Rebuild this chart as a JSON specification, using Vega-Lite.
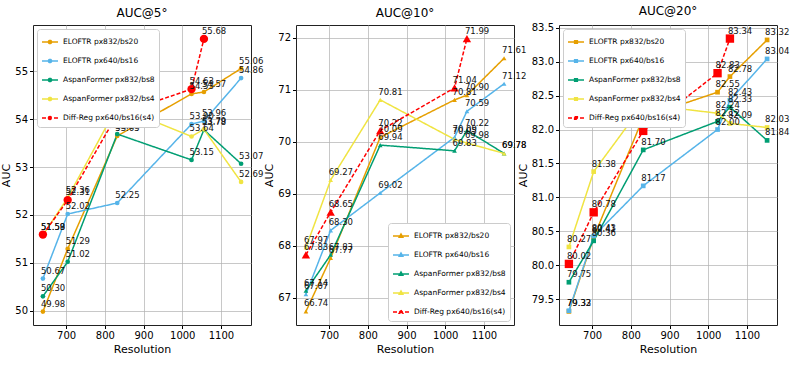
{
  "$schema": "https://vega.github.io/schema/vega-lite/v6.json",
  "padding": {"left": 0, "top": 4, "right": 0, "bottom": 0},
  "background": "white",
  "bounds": "flush",
  "spacing": 45,
  "config": {
    "font": "DejaVu Sans",
    "view": {"stroke": "#222", "strokeWidth": 1},
    "axis": {"grid": true, "gridColor": "#b0b0b0", "gridOpacity": 0.7, "gridWidth": 1, "labelFontSize": 10, "titleFontSize": 11, "titleFontWeight": "normal", "labelColor": "#000", "titleColor": "#000", "tickColor": "#000", "domain": false, "tickSize": 3.5, "labelPadding": 2, "titlePadding": 3},
    "title": {"fontSize": 12, "fontWeight": "normal", "offset": 5},
    "legend": {"fillColor": "white", "strokeColor": "#cccccc", "padding": 4, "cornerRadius": 3, "labelFontSize": 7.5, "rowPadding": 5, "symbolStrokeWidth": 1.5, "offset": 4, "symbolSize": 256, "labelColor": "#000", "labelOffset": 4}
  },
  "datasets": {
    "d": [
      {"panel": "5", "series": "ELOFTR px832/bs20", "res": 640, "auc": 49.98},
      {"panel": "5", "series": "ELOFTR px832/bs20", "res": 704, "auc": 51.29},
      {"panel": "5", "series": "ELOFTR px832/bs20", "res": 832, "auc": 53.65},
      {"panel": "5", "series": "ELOFTR px832/bs20", "res": 1024, "auc": 54.53},
      {"panel": "5", "series": "ELOFTR px832/bs20", "res": 1056, "auc": 54.57},
      {"panel": "5", "series": "ELOFTR px832/bs20", "res": 1152, "auc": 55.06},
      {"panel": "5", "series": "ELOFTR px640/bs16", "res": 640, "auc": 50.67},
      {"panel": "5", "series": "ELOFTR px640/bs16", "res": 704, "auc": 52.02},
      {"panel": "5", "series": "ELOFTR px640/bs16", "res": 832, "auc": 52.25},
      {"panel": "5", "series": "ELOFTR px640/bs16", "res": 1024, "auc": 53.90},
      {"panel": "5", "series": "ELOFTR px640/bs16", "res": 1056, "auc": 53.96},
      {"panel": "5", "series": "ELOFTR px640/bs16", "res": 1152, "auc": 54.86},
      {"panel": "5", "series": "AspanFormer px832/bs8", "res": 640, "auc": 50.30},
      {"panel": "5", "series": "AspanFormer px832/bs8", "res": 704, "auc": 51.02},
      {"panel": "5", "series": "AspanFormer px832/bs8", "res": 832, "auc": 53.69},
      {"panel": "5", "series": "AspanFormer px832/bs8", "res": 1024, "auc": 53.15},
      {"panel": "5", "series": "AspanFormer px832/bs8", "res": 1056, "auc": 53.78},
      {"panel": "5", "series": "AspanFormer px832/bs8", "res": 1152, "auc": 53.07},
      {"panel": "5", "series": "AspanFormer px832/bs4", "res": 640, "auc": 51.58},
      {"panel": "5", "series": "AspanFormer px832/bs4", "res": 704, "auc": 52.36},
      {"panel": "5", "series": "AspanFormer px832/bs4", "res": 832, "auc": 54.27},
      {"panel": "5", "series": "AspanFormer px832/bs4", "res": 1024, "auc": 53.64},
      {"panel": "5", "series": "AspanFormer px832/bs4", "res": 1056, "auc": 53.79},
      {"panel": "5", "series": "AspanFormer px832/bs4", "res": 1152, "auc": 52.69},
      {"panel": "5", "series": "Diff-Reg px640/bs16(s4)", "res": 640, "auc": 51.59},
      {"panel": "5", "series": "Diff-Reg px640/bs16(s4)", "res": 704, "auc": 52.31},
      {"panel": "5", "series": "Diff-Reg px640/bs16(s4)", "res": 832, "auc": 54.10},
      {"panel": "5", "series": "Diff-Reg px640/bs16(s4)", "res": 1024, "auc": 54.63},
      {"panel": "5", "series": "Diff-Reg px640/bs16(s4)", "res": 1056, "auc": 55.68},

      {"panel": "10", "series": "ELOFTR px832/bs20", "res": 640, "auc": 66.74},
      {"panel": "10", "series": "ELOFTR px832/bs20", "res": 704, "auc": 67.77},
      {"panel": "10", "series": "ELOFTR px832/bs20", "res": 832, "auc": 70.09},
      {"panel": "10", "series": "ELOFTR px832/bs20", "res": 1024, "auc": 70.81},
      {"panel": "10", "series": "ELOFTR px832/bs20", "res": 1056, "auc": 70.90},
      {"panel": "10", "series": "ELOFTR px832/bs20", "res": 1152, "auc": 71.61},
      {"panel": "10", "series": "ELOFTR px640/bs16", "res": 640, "auc": 67.07},
      {"panel": "10", "series": "ELOFTR px640/bs16", "res": 704, "auc": 68.30},
      {"panel": "10", "series": "ELOFTR px640/bs16", "res": 832, "auc": 69.02},
      {"panel": "10", "series": "ELOFTR px640/bs16", "res": 1024, "auc": 70.09},
      {"panel": "10", "series": "ELOFTR px640/bs16", "res": 1056, "auc": 70.59},
      {"panel": "10", "series": "ELOFTR px640/bs16", "res": 1152, "auc": 71.12},
      {"panel": "10", "series": "AspanFormer px832/bs8", "res": 640, "auc": 67.14},
      {"panel": "10", "series": "AspanFormer px832/bs8", "res": 704, "auc": 67.83},
      {"panel": "10", "series": "AspanFormer px832/bs8", "res": 832, "auc": 69.94},
      {"panel": "10", "series": "AspanFormer px832/bs8", "res": 1024, "auc": 69.83},
      {"panel": "10", "series": "AspanFormer px832/bs8", "res": 1056, "auc": 70.22},
      {"panel": "10", "series": "AspanFormer px832/bs8", "res": 1152, "auc": 69.78},
      {"panel": "10", "series": "AspanFormer px832/bs4", "res": 640, "auc": 67.97},
      {"panel": "10", "series": "AspanFormer px832/bs4", "res": 704, "auc": 69.27},
      {"panel": "10", "series": "AspanFormer px832/bs4", "res": 832, "auc": 70.81},
      {"panel": "10", "series": "AspanFormer px832/bs4", "res": 1024, "auc": 70.05},
      {"panel": "10", "series": "AspanFormer px832/bs4", "res": 1056, "auc": 69.98},
      {"panel": "10", "series": "AspanFormer px832/bs4", "res": 1152, "auc": 69.78},
      {"panel": "10", "series": "Diff-Reg px640/bs16(s4)", "res": 640, "auc": 67.83},
      {"panel": "10", "series": "Diff-Reg px640/bs16(s4)", "res": 704, "auc": 68.65},
      {"panel": "10", "series": "Diff-Reg px640/bs16(s4)", "res": 832, "auc": 70.22},
      {"panel": "10", "series": "Diff-Reg px640/bs16(s4)", "res": 1024, "auc": 71.04},
      {"panel": "10", "series": "Diff-Reg px640/bs16(s4)", "res": 1056, "auc": 71.99},

      {"panel": "20", "series": "ELOFTR px832/bs20", "res": 640, "auc": 79.32},
      {"panel": "20", "series": "ELOFTR px832/bs20", "res": 704, "auc": 80.41},
      {"panel": "20", "series": "ELOFTR px832/bs20", "res": 832, "auc": 82.18},
      {"panel": "20", "series": "ELOFTR px832/bs20", "res": 1024, "auc": 82.55},
      {"panel": "20", "series": "ELOFTR px832/bs20", "res": 1056, "auc": 82.78},
      {"panel": "20", "series": "ELOFTR px832/bs20", "res": 1152, "auc": 83.32},
      {"panel": "20", "series": "ELOFTR px640/bs16", "res": 640, "auc": 79.33},
      {"panel": "20", "series": "ELOFTR px640/bs16", "res": 704, "auc": 80.43},
      {"panel": "20", "series": "ELOFTR px640/bs16", "res": 832, "auc": 81.17},
      {"panel": "20", "series": "ELOFTR px640/bs16", "res": 1024, "auc": 82.00},
      {"panel": "20", "series": "ELOFTR px640/bs16", "res": 1056, "auc": 82.43},
      {"panel": "20", "series": "ELOFTR px640/bs16", "res": 1152, "auc": 83.04},
      {"panel": "20", "series": "AspanFormer px832/bs8", "res": 640, "auc": 79.75},
      {"panel": "20", "series": "AspanFormer px832/bs8", "res": 704, "auc": 80.36},
      {"panel": "20", "series": "AspanFormer px832/bs8", "res": 832, "auc": 81.70},
      {"panel": "20", "series": "AspanFormer px832/bs8", "res": 1024, "auc": 82.12},
      {"panel": "20", "series": "AspanFormer px832/bs8", "res": 1056, "auc": 82.33},
      {"panel": "20", "series": "AspanFormer px832/bs8", "res": 1152, "auc": 81.84},
      {"panel": "20", "series": "AspanFormer px832/bs4", "res": 640, "auc": 80.27},
      {"panel": "20", "series": "AspanFormer px832/bs4", "res": 704, "auc": 81.38},
      {"panel": "20", "series": "AspanFormer px832/bs4", "res": 832, "auc": 82.37},
      {"panel": "20", "series": "AspanFormer px832/bs4", "res": 1024, "auc": 82.24},
      {"panel": "20", "series": "AspanFormer px832/bs4", "res": 1056, "auc": 82.09},
      {"panel": "20", "series": "AspanFormer px832/bs4", "res": 1152, "auc": 82.03},
      {"panel": "20", "series": "Diff-Reg px640/bs16(s4)", "res": 640, "auc": 80.02},
      {"panel": "20", "series": "Diff-Reg px640/bs16(s4)", "res": 704, "auc": 80.78},
      {"panel": "20", "series": "Diff-Reg px640/bs16(s4)", "res": 832, "auc": 81.98},
      {"panel": "20", "series": "Diff-Reg px640/bs16(s4)", "res": 1024, "auc": 82.83},
      {"panel": "20", "series": "Diff-Reg px640/bs16(s4)", "res": 1056, "auc": 83.34}
    ]
  },
  "hconcat": [
    {
      "title": "AUC@5°",
      "width": 218, "height": 300,
      "data": {"name": "d"},
      "transform": [{"filter": "datum.panel === '5'"}],
      "encoding": {
        "x": {"field": "res", "type": "quantitative", "scale": {"domain": [614.4, 1177.6], "nice": false, "zero": false}, "axis": {"values": [700, 800, 900, 1000, 1100], "format": "d", "title": "Resolution"}},
        "y": {"field": "auc", "type": "quantitative", "scale": {"domain": [49.7, 55.97], "nice": false, "zero": false}, "axis": {"values": [50, 51, 52, 53, 54, 55, 56], "title": "AUC"}}
      },
      "layer": [
        {"mark": {"type": "line", "strokeWidth": 1.5},
         "encoding": {
           "color": {"field": "series", "type": "nominal", "scale": {"domain": ["ELOFTR px832/bs20", "ELOFTR px640/bs16", "AspanFormer px832/bs8", "AspanFormer px832/bs4", "Diff-Reg px640/bs16(s4)"], "range": ["#E69F00", "#56B4E9", "#009E73", "#F0E442", "#FF0000"]},
             "legend": {"title": null, "orient": "top-left", "symbolType": "M-1,0H1M-0.2,0A0.2,0.2,0,1,1,0.2,0A0.2,0.2,0,1,1,-0.2,0Z", "encode": {"symbols": {"update": {"fill": {"scale": "color", "field": "value"}}}}}},
           "strokeDash": {"field": "series", "type": "nominal", "scale": {"domain": ["ELOFTR px832/bs20", "ELOFTR px640/bs16", "AspanFormer px832/bs8", "AspanFormer px832/bs4", "Diff-Reg px640/bs16(s4)"], "range": [[1, 0], [1, 0], [1, 0], [1, 0], [4, 2]]},
             "legend": {"title": null, "orient": "top-left", "symbolType": "M-1,0H1M-0.2,0A0.2,0.2,0,1,1,0.2,0A0.2,0.2,0,1,1,-0.2,0Z", "encode": {"symbols": {"update": {"fill": {"scale": "color", "field": "value"}}}}}}
         }},
        {"mark": {"type": "point", "filled": true, "shape": "circle", "opacity": 1},
         "encoding": {
           "color": {"field": "series", "type": "nominal", "legend": null},
           "size": {"condition": {"test": "datum.series === 'Diff-Reg px640/bs16(s4)'", "value": 70}, "value": 22}
         }},
        {"mark": {"type": "text", "align": "left", "baseline": "bottom", "dx": -2, "dy": -3, "fontSize": 8.5, "color": "#111"},
         "encoding": {"text": {"field": "auc", "type": "quantitative", "format": ".2f"}}}
      ]
    },
    {
      "title": "AUC@10°",
      "width": 218, "height": 300,
      "data": {"name": "d"},
      "transform": [{"filter": "datum.panel === '10'"}],
      "encoding": {
        "x": {"field": "res", "type": "quantitative", "scale": {"domain": [614.4, 1177.6], "nice": false, "zero": false}, "axis": {"values": [700, 800, 900, 1000, 1100], "format": "d", "title": "Resolution"}},
        "y": {"field": "auc", "type": "quantitative", "scale": {"domain": [66.48, 72.25], "nice": false, "zero": false}, "axis": {"values": [67, 68, 69, 70, 71, 72], "title": "AUC"}}
      },
      "layer": [
        {"mark": {"type": "line", "strokeWidth": 1.5},
         "encoding": {
           "color": {"field": "series", "type": "nominal", "scale": {"domain": ["ELOFTR px832/bs20", "ELOFTR px640/bs16", "AspanFormer px832/bs8", "AspanFormer px832/bs4", "Diff-Reg px640/bs16(s4)"], "range": ["#E69F00", "#56B4E9", "#009E73", "#F0E442", "#FF0000"]},
             "legend": {"title": null, "orient": "bottom-right", "symbolType": "M-1,0H1M0,-0.24L0.22,0.15L-0.22,0.15Z", "encode": {"symbols": {"update": {"fill": {"scale": "color", "field": "value"}}}}}},
           "strokeDash": {"field": "series", "type": "nominal", "scale": {"domain": ["ELOFTR px832/bs20", "ELOFTR px640/bs16", "AspanFormer px832/bs8", "AspanFormer px832/bs4", "Diff-Reg px640/bs16(s4)"], "range": [[1, 0], [1, 0], [1, 0], [1, 0], [4, 2]]},
             "legend": {"title": null, "orient": "bottom-right", "symbolType": "M-1,0H1M0,-0.24L0.22,0.15L-0.22,0.15Z", "encode": {"symbols": {"update": {"fill": {"scale": "color", "field": "value"}}}}}}
         }},
        {"mark": {"type": "point", "filled": true, "shape": "triangle-up", "opacity": 1},
         "encoding": {
           "color": {"field": "series", "type": "nominal", "legend": null},
           "size": {"condition": {"test": "datum.series === 'Diff-Reg px640/bs16(s4)'", "value": 70}, "value": 22}
         }},
        {"mark": {"type": "text", "align": "left", "baseline": "bottom", "dx": -2, "dy": -3, "fontSize": 8.5, "color": "#111"},
         "encoding": {"text": {"field": "auc", "type": "quantitative", "format": ".2f"}}}
      ]
    },
    {
      "title": "AUC@20°",
      "width": 218, "height": 300,
      "data": {"name": "d"},
      "transform": [{"filter": "datum.panel === '20'"}],
      "encoding": {
        "x": {"field": "res", "type": "quantitative", "scale": {"domain": [614.4, 1177.6], "nice": false, "zero": false}, "axis": {"values": [700, 800, 900, 1000, 1100], "format": "d", "title": "Resolution"}},
        "y": {"field": "auc", "type": "quantitative", "scale": {"domain": [79.12, 83.54], "nice": false, "zero": false}, "axis": {"values": [79.5, 80.0, 80.5, 81.0, 81.5, 82.0, 82.5, 83.0, 83.5], "format": ".1f", "title": "AUC"}}
      },
      "layer": [
        {"mark": {"type": "line", "strokeWidth": 1.5},
         "encoding": {
           "color": {"field": "series", "type": "nominal", "scale": {"domain": ["ELOFTR px832/bs20", "ELOFTR px640/bs16", "AspanFormer px832/bs8", "AspanFormer px832/bs4", "Diff-Reg px640/bs16(s4)"], "range": ["#E69F00", "#56B4E9", "#009E73", "#F0E442", "#FF0000"]},
             "legend": {"title": null, "orient": "top-left", "symbolType": "M-1,0H1M-0.17,-0.17H0.17V0.17H-0.17Z", "encode": {"symbols": {"update": {"fill": {"scale": "color", "field": "value"}}}}}},
           "strokeDash": {"field": "series", "type": "nominal", "scale": {"domain": ["ELOFTR px832/bs20", "ELOFTR px640/bs16", "AspanFormer px832/bs8", "AspanFormer px832/bs4", "Diff-Reg px640/bs16(s4)"], "range": [[1, 0], [1, 0], [1, 0], [1, 0], [4, 2]]},
             "legend": {"title": null, "orient": "top-left", "symbolType": "M-1,0H1M-0.17,-0.17H0.17V0.17H-0.17Z", "encode": {"symbols": {"update": {"fill": {"scale": "color", "field": "value"}}}}}}
         }},
        {"mark": {"type": "point", "filled": true, "shape": "square", "opacity": 1},
         "encoding": {
           "color": {"field": "series", "type": "nominal", "legend": null},
           "size": {"condition": {"test": "datum.series === 'Diff-Reg px640/bs16(s4)'", "value": 70}, "value": 22}
         }},
        {"mark": {"type": "text", "align": "left", "baseline": "bottom", "dx": -2, "dy": -3, "fontSize": 8.5, "color": "#111"},
         "encoding": {"text": {"field": "auc", "type": "quantitative", "format": ".2f"}}}
      ]
    }
  ],
  "resolve": {"scale": {"x": "independent", "y": "independent"}, "legend": {"color": "independent", "strokeDash": "independent"}}
}
